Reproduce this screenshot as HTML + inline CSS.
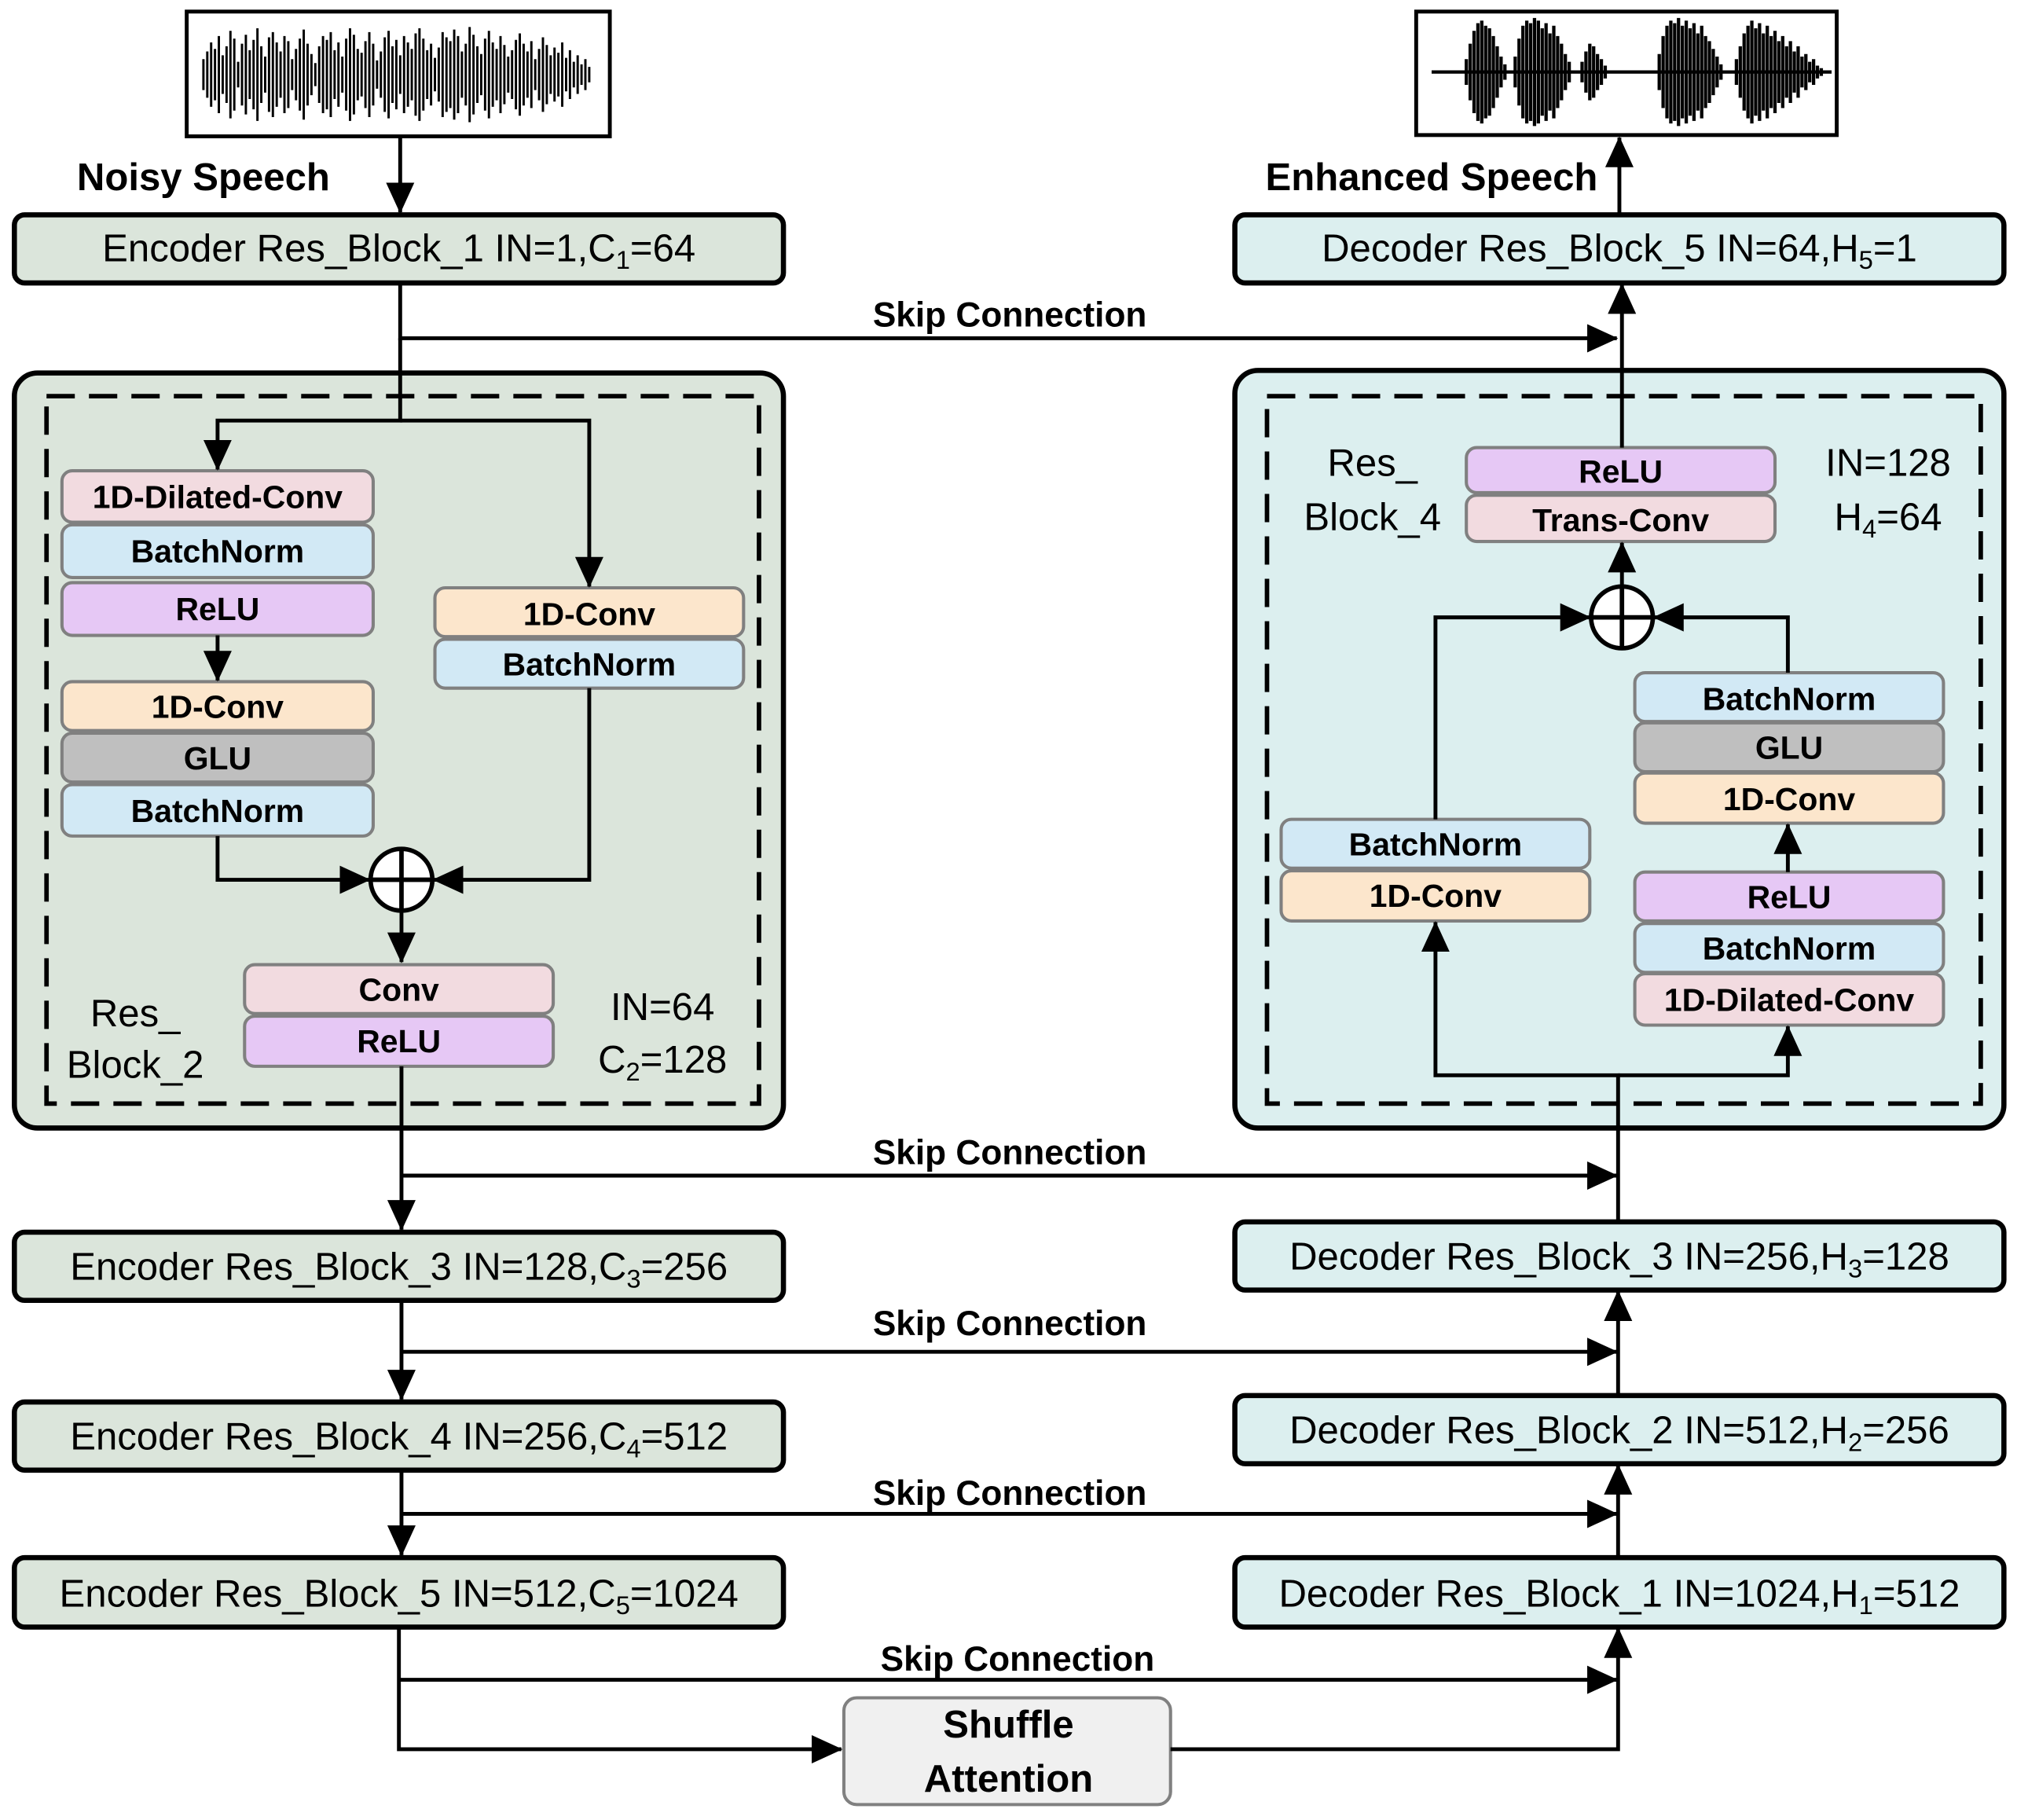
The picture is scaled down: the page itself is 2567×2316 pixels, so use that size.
<!DOCTYPE html>
<html><head><meta charset="utf-8"><style>
html,body{margin:0;padding:0;background:#fff;}
svg{display:block;}
text{font-family:"Liberation Sans",sans-serif;}
.b{font-weight:bold;font-size:25px;text-anchor:middle;}
.n{font-size:30px;text-anchor:middle;}
.sk{font-weight:bold;font-size:27px;text-anchor:middle;}
.in{stroke:#808080;stroke-width:2.5;}
</style></head><body>
<svg width="2567" height="2316" viewBox="0 0 1568 1415" xmlns="http://www.w3.org/2000/svg">
<defs>
<marker id="m" viewBox="0 0 24 24" refX="23" refY="12" markerWidth="24" markerHeight="24" orient="auto" markerUnits="userSpaceOnUse"><path d="M0,1L24,12L0,23z"/></marker>
</defs>
<g fill="none" stroke="#000" stroke-width="3">
<rect x="145" y="9" width="329" height="97" fill="#fff"/>
<rect x="1101" y="9" width="327" height="96" fill="#fff"/>
</g>
<path stroke="#000" stroke-width="1.8" fill="none" d="M158,58m0,-12v24m0,-12m3,-18v36m0,-18m3,-25v50m0,-25m3,-20v40m0,-20m3,-30v60m0,-30m3,-15v30m0,-15m3,-22v44m0,-22m3,-34v68m0,-34m3,-28v56m0,-28m3,-10v20m0,-10m3,-24v48m0,-24m3,-31v62m0,-31m3,-19v38m0,-19m3,-27v54m0,-27m3,-36v72m0,-36m3,-22v44m0,-22m3,-14v28m0,-14m3,-29v58m0,-29m3,-33v66m0,-33m3,-25v50m0,-25m3,-18v36m0,-18m3,-30v60m0,-30m3,-26v52m0,-26m3,-12v24m0,-12m3,-20v40m0,-20m3,-28v56m0,-28m3,-35v70m0,-35m3,-24v48m0,-24m3,-16v32m0,-16m3,-9v18m0,-9m3,-22v44m0,-22m3,-30v60m0,-30m3,-27v54m0,-27m3,-33v66m0,-33m3,-19v38m0,-19m3,-25v50m0,-25m3,-14v28m0,-14m3,-28v56m0,-28m3,-36v72m0,-36m3,-31v62m0,-31m3,-20v40m0,-20m3,-17v34m0,-17m3,-26v52m0,-26m3,-33v66m0,-33m3,-24v48m0,-24m3,-11v22m0,-11m3,-18v36m0,-18m3,-29v58m0,-29m3,-34v68m0,-34m3,-22v44m0,-22m3,-27v54m0,-27m3,-15v30m0,-15m3,-30v60m0,-30m3,-25v50m0,-25m3,-20v40m0,-20m3,-32v64m0,-32m3,-36v72m0,-36m3,-28v56m0,-28m3,-19v38m0,-19m3,-24v48m0,-24m3,-13v26m0,-13m3,-21v42m0,-21m3,-33v66m0,-33m3,-29v58m0,-29m3,-26v52m0,-26m3,-35v70m0,-35m3,-30v60m0,-30m3,-18v36m0,-18m3,-24v48m0,-24m3,-37v74m0,-37m3,-31v62m0,-31m3,-22v44m0,-22m3,-16v32m0,-16m3,-28v56m0,-28m3,-34v68m0,-34m3,-25v50m0,-25m3,-20v40m0,-20m3,-30v60m0,-30m3,-23v46m0,-23m3,-14v28m0,-14m3,-19v38m0,-19m3,-27v54m0,-27m3,-32v64m0,-32m3,-24v48m0,-24m3,-18v36m0,-18m3,-26v52m0,-26m3,-12v24m0,-12m3,-20v40m0,-20m3,-29v58m0,-29m3,-23v46m0,-23m3,-15v30m0,-15m3,-21v42m0,-21m3,-17v34m0,-17m3,-25v50m0,-25m3,-13v26m0,-13m3,-19v38m0,-19m3,-10v20m0,-10m3,-15v30m0,-15m3,-8v16m0,-8m3,-12v24m0,-12m3,-6v12m0,-6"/>
<path stroke="#000" stroke-width="2.6" fill="none" d="M1113,56H1424M1140,56m0,-10v20m0,-10m3,-22v44m0,-22m3,-32v64m0,-32m3,-38v76m0,-38m3,-40v80m0,-40m3,-36v72m0,-36m3,-34v68m0,-34m3,-28v56m0,-28m3,-20v40m0,-20m3,-12v24m0,-12m3,-6v12m0,-6M1178,56m0,-12v24m0,-12m3,-26v52m0,-26m3,-36v72m0,-36m3,-40v80m0,-40m3,-38v76m0,-38m3,-42v84m0,-42m3,-40v80m0,-40m3,-34v68m0,-34m3,-38v76m0,-38m3,-30v60m0,-30m3,-36v72m0,-36m3,-28v56m0,-28m3,-22v44m0,-22m3,-14v28m0,-14m3,-8v16m0,-8M1230,56m0,-8v16m0,-8m3,-16v32m0,-16m3,-22v44m0,-22m3,-20v40m0,-20m3,-14v28m0,-14m3,-10v20m0,-10m3,-5v10m0,-5M1290,56m0,-14v28m0,-14m3,-28v56m0,-28m3,-36v72m0,-36m3,-40v80m0,-40m3,-38v76m0,-38m3,-42v84m0,-42m3,-36v72m0,-36m3,-40v80m0,-40m3,-34v68m0,-34m3,-38v76m0,-38m3,-30v60m0,-30m3,-36v72m0,-36m3,-28v56m0,-28m3,-24v48m0,-24m3,-18v36m0,-18m3,-12v24m0,-12m3,-6v12m0,-6M1350,56m0,-10v20m0,-10m3,-20v40m0,-20m3,-30v60m0,-30m3,-36v72m0,-36m3,-40v80m0,-40m3,-34v68m0,-34m3,-38v76m0,-38m3,-30v60m0,-30m3,-36v72m0,-36m3,-28v56m0,-28m3,-32v64m0,-32m3,-24v48m0,-24m3,-28v56m0,-28m3,-20v40m0,-20m3,-24v48m0,-24m3,-16v32m0,-16m3,-20v40m0,-20m3,-12v24m0,-12m3,-14v28m0,-14m3,-8v16m0,-8m3,-10v20m0,-10m3,-5v10m0,-5m3,-3v6m0,-3"/>
<text x="158" y="148" font-size="30" font-weight="bold" text-anchor="middle">Noisy Speech</text>
<text x="1113" y="148" font-size="30" font-weight="bold" text-anchor="middle">Enhanced Speech</text>

<g stroke="#000" stroke-width="4" fill="#dbe5db">
<rect x="11" y="167" width="598" height="53" rx="8"/>
<rect x="11" y="290" width="598" height="587" rx="18"/>
<rect x="11" y="958" width="598" height="53" rx="8"/>
<rect x="11" y="1090" width="598" height="53" rx="8"/>
<rect x="11" y="1211" width="598" height="54" rx="8"/>
</g>
<g stroke="#000" stroke-width="4" fill="#dcefef">
<rect x="960" y="167" width="598" height="53" rx="8"/>
<rect x="960" y="288" width="598" height="589" rx="18"/>
<rect x="960" y="950" width="598" height="53" rx="8"/>
<rect x="960" y="1085" width="598" height="53" rx="8"/>
<rect x="960" y="1211" width="598" height="54" rx="8"/>
</g>
<g stroke="#000" stroke-width="3.5" fill="none" stroke-dasharray="22,11">
<rect x="36" y="308" width="554" height="550"/>
<rect x="985" y="308" width="555" height="550"/>
</g>
<text class="n" x="310" y="203">Encoder Res_Block_1 IN=1,C<tspan font-size="20" dy="6">1</tspan><tspan dy="-6">=64</tspan></text>
<text class="n" x="310" y="995">Encoder Res_Block_3 IN=128,C<tspan font-size="20" dy="6">3</tspan><tspan dy="-6">=256</tspan></text>
<text class="n" x="310" y="1127">Encoder Res_Block_4 IN=256,C<tspan font-size="20" dy="6">4</tspan><tspan dy="-6">=512</tspan></text>
<text class="n" x="310" y="1249">Encoder Res_Block_5 IN=512,C<tspan font-size="20" dy="6">5</tspan><tspan dy="-6">=1024</tspan></text>
<text class="n" x="1259" y="203">Decoder Res_Block_5 IN=64,H<tspan font-size="20" dy="6">5</tspan><tspan dy="-6">=1</tspan></text>
<text class="n" x="1259" y="987">Decoder Res_Block_3 IN=256,H<tspan font-size="20" dy="6">3</tspan><tspan dy="-6">=128</tspan></text>
<text class="n" x="1259" y="1122">Decoder Res_Block_2 IN=512,H<tspan font-size="20" dy="6">2</tspan><tspan dy="-6">=256</tspan></text>
<text class="n" x="1259" y="1249">Decoder Res_Block_1 IN=1024,H<tspan font-size="20" dy="6">1</tspan><tspan dy="-6">=512</tspan></text>

<g class="in">
<rect x="48" y="366" width="242" height="40" rx="8" fill="#f2dbe0"/>
<rect x="48" y="408" width="242" height="41" rx="8" fill="#d2e9f5"/>
<rect x="48" y="453" width="242" height="41" rx="8" fill="#e6c8f5"/>
<rect x="48" y="530" width="242" height="38" rx="8" fill="#fce6cc"/>
<rect x="48" y="570" width="242" height="38" rx="8" fill="#bfbfbf"/>
<rect x="48" y="610" width="242" height="40" rx="8" fill="#d2e9f5"/>
<rect x="338" y="457" width="240" height="38" rx="8" fill="#fce6cc"/>
<rect x="338" y="497" width="240" height="38" rx="8" fill="#d2e9f5"/>
<rect x="190" y="750" width="240" height="38" rx="8" fill="#f2dbe0"/>
<rect x="190" y="790" width="240" height="39" rx="8" fill="#e6c8f5"/>
<rect x="1140" y="348" width="240" height="35" rx="8" fill="#e6c8f5"/>
<rect x="1140" y="385" width="240" height="36" rx="8" fill="#f2dbe0"/>
<rect x="996" y="637" width="240" height="38" rx="8" fill="#d2e9f5"/>
<rect x="996" y="677" width="240" height="39" rx="8" fill="#fce6cc"/>
<rect x="1271" y="523" width="240" height="38" rx="8" fill="#d2e9f5"/>
<rect x="1271" y="562" width="240" height="38" rx="8" fill="#bfbfbf"/>
<rect x="1271" y="601" width="240" height="39" rx="8" fill="#fce6cc"/>
<rect x="1271" y="678" width="240" height="38" rx="8" fill="#e6c8f5"/>
<rect x="1271" y="718" width="240" height="38" rx="8" fill="#d2e9f5"/>
<rect x="1271" y="757" width="240" height="40" rx="8" fill="#f2dbe0"/>
<rect x="656" y="1320" width="254" height="83" rx="10" fill="#f0f0f0"/>
</g>
<g class="b">
<text x="169" y="395">1D-Dilated-Conv</text>
<text x="169" y="437">BatchNorm</text>
<text x="169" y="482">ReLU</text>
<text x="169" y="558">1D-Conv</text>
<text x="169" y="598">GLU</text>
<text x="169" y="639">BatchNorm</text>
<text x="458" y="486">1D-Conv</text>
<text x="458" y="525">BatchNorm</text>
<text x="310" y="778">Conv</text>
<text x="310" y="818">ReLU</text>
<text x="1260" y="375">ReLU</text>
<text x="1260" y="413">Trans-Conv</text>
<text x="1116" y="665">BatchNorm</text>
<text x="1116" y="705">1D-Conv</text>
<text x="1391" y="552">BatchNorm</text>
<text x="1391" y="590">GLU</text>
<text x="1391" y="630">1D-Conv</text>
<text x="1391" y="706">ReLU</text>
<text x="1391" y="746">BatchNorm</text>
<text x="1391" y="786">1D-Dilated-Conv</text>
<text x="784" y="1351" font-size="30">Shuffle</text>
<text x="784" y="1393" font-size="30">Attention</text>
</g>
<g class="n" font-size="30">
<text x="105" y="798">Res_</text><text x="105" y="838">Block_2</text>
<text x="515" y="793">IN=64</text>
<text x="515" y="834">C<tspan font-size="20" dy="6">2</tspan><tspan dy="-6">=128</tspan></text>
<text x="1067" y="370">Res_</text><text x="1067" y="412">Block_4</text>
<text x="1468" y="370">IN=128</text>
<text x="1468" y="412">H<tspan font-size="20" dy="6">4</tspan><tspan dy="-6">=64</tspan></text>
</g>
<g class="sk">
<text x="785" y="254">Skip Connection</text>
<text x="785" y="905">Skip Connection</text>
<text x="785" y="1038">Skip Connection</text>
<text x="785" y="1170">Skip Connection</text>
<text x="791" y="1299">Skip Connection</text>
</g>

<g stroke="#000" stroke-width="3" fill="none" marker-end="url(#m)">
<path d="M311,106V165"/>
<path d="M1259,167V107"/>
<path d="M311,220V263H1257"/>
<path d="M311,263V327H169V365"/>
<path d="M311,327H458V456"/>
<path d="M169,494V529"/>
<path d="M169,650V684H287"/>
<path d="M458,535V684H337"/>
<path d="M312,708V748"/>
<path d="M312,829V956"/>
<path d="M312,914H1257"/>
<path d="M312,1011V1088"/>
<path d="M312,1051H1257"/>
<path d="M312,1143V1209"/>
<path d="M312,1177H1257"/>
<path d="M310,1265V1360H654"/>
<path d="M310,1306H1257"/>
<path d="M910,1360H1258V1266"/>
<path d="M1258,1211V1139"/>
<path d="M1258,1085V1004"/>
<path d="M1258,950V836H1116V717"/>
<path d="M1258,836H1390V798"/>
<path d="M1390,678V641"/>
<path d="M1116,637V480H1236"/>
<path d="M1390,523V480H1286"/>
<path d="M1261,456V422"/>
<path d="M1261,348V221"/>
</g>
<g stroke="#000" stroke-width="3.5" fill="#fff">
<circle cx="312" cy="684" r="24"/>
<circle cx="1261" cy="480" r="24"/>
</g>
<g stroke="#000" stroke-width="3.5">
<path d="M288,684H336M312,660V708"/>
<path d="M1237,480H1285M1261,456V504"/>
</g>
</svg>
</body></html>
